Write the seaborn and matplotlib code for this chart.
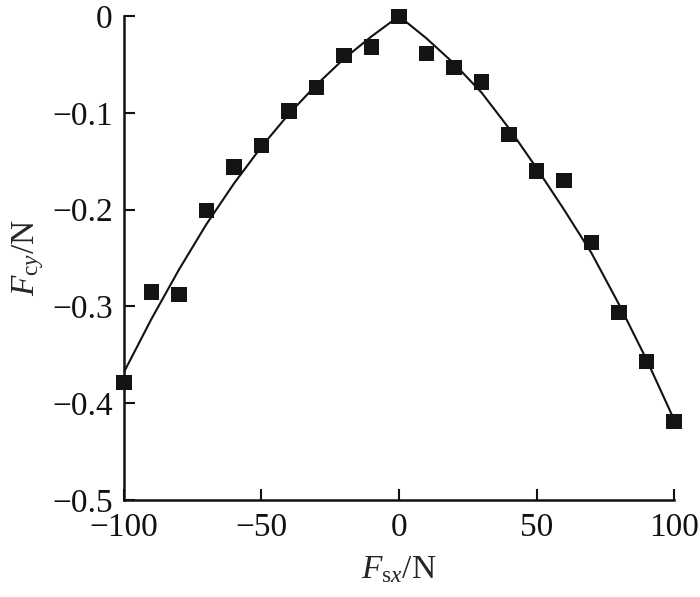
import pandas as pd
import seaborn as sns
import matplotlib.pyplot as plt

# Measured points
fsx = [-100, -90, -80, -70, -60, -50, -40, -30, -20, -10, 0,
       10, 20, 30, 40, 50, 60, 70, 80, 90, 100]
fcy = [-0.379, -0.285, -0.288, -0.201, -0.156, -0.134, -0.098, -0.074, -0.041, -0.032, 0.000,
       -0.039, -0.053, -0.068, -0.122, -0.160, -0.170, -0.234, -0.306, -0.357, -0.419]

# Fitted curve
curve_x = [-100, -90, -80, -70, -60, -50, -40, -30, -20, -10, 0,
           10, 20, 30, 40, 50, 60, 70, 80, 90, 100]
curve_y = [-0.368, -0.313, -0.262, -0.215, -0.173, -0.135, -0.101, -0.071, -0.044, -0.021, 0.000,
           -0.023, -0.049, -0.079, -0.116, -0.157, -0.200, -0.245, -0.298, -0.355, -0.417]

pts = pd.DataFrame({'Fsx': fsx, 'Fcy': fcy})
fit = pd.DataFrame({'Fsx': curve_x, 'Fcy': curve_y})

sns.set_style('ticks')
plt.rcParams['font.family'] = ['Liberation Serif', 'DejaVu Serif']
plt.rcParams['mathtext.fontset'] = 'custom'
plt.rcParams['mathtext.rm'] = 'Liberation Serif'
plt.rcParams['mathtext.it'] = 'Liberation Serif:italic'

fig = plt.figure(figsize=(7, 5.97), dpi=100)
ax = fig.add_axes([0.177, 0.1625, 0.786, 0.8105])

sns.lineplot(data=fit, x='Fsx', y='Fcy', ax=ax, color='#111111', linewidth=1.5)
sns.scatterplot(data=pts, x='Fsx', y='Fcy', ax=ax, marker='s', s=120,
                color='#141414', edgecolor='none', clip_on=False, zorder=5)

ax.set_xlim(-100, 100)
ax.set_ylim(-0.5, 0)
ax.set_xticks([-100, -50, 0, 50, 100])
ax.set_yticks([0, -0.1, -0.2, -0.3, -0.4, -0.5])
ax.set_xticklabels(['\u2212100', '\u221250', '0', '50', '100'])
ax.set_yticklabels(['0', '\u22120.1', '\u22120.2', '\u22120.3', '\u22120.4', '\u22120.5'])
ax.tick_params(direction='in', length=8, width=1.5, labelsize=24, colors='#111111')
ax.tick_params(axis='x', pad=9)
ax.tick_params(axis='y', pad=8)
for side in ['top', 'right']:
    ax.spines[side].set_visible(False)
for side in ['left', 'bottom']:
    ax.spines[side].set_linewidth(1.8)
    ax.spines[side].set_color('#111111')

ax.set_xlabel(r'$F_{\mathrm{s}x}/\mathrm{N}$', fontsize=24, labelpad=8)
ax.set_ylabel(r'$F_{\mathrm{c}y}/\mathrm{N}$', fontsize=24, labelpad=4)

plt.savefig('out.png', dpi=100)
plt.close()
